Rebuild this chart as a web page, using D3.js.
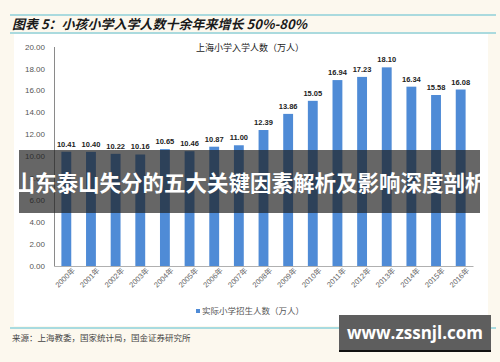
<!DOCTYPE html>
<html>
<head>
<meta charset="utf-8">
<script src="https://cdn.jsdelivr.net/npm/d3@7"></script>
<style>
  body { margin: 0; background: #fcf8ee; }
  svg { display: block; }
  text { font-family: Arial, "Liberation Sans", "Noto Sans CJK SC", sans-serif; }
</style>
</head>
<body>
<div id="chart"></div>
<script>
// data
var years = ["2000年","2001年","2002年","2003年","2004年","2005年","2006年","2007年","2008年",
             "2009年","2010年","2011年","2012年","2013年","2014年","2015年","2016年"];
var enrol = [10.41, 10.40, 10.22, 10.16, 10.65, 10.46, 10.87, 11.00, 12.39,
             13.86, 15.05, 16.94, 17.23, 18.10, 16.34, 15.58, 16.08];
var yTicks = [0, 2, 4, 6, 8, 10, 12, 14, 16, 18, 20];

var W = 500, H = 362;
var svg = d3.select("#chart").append("svg").attr("width", W).attr("height", H);

// backgrounds
svg.append("rect").attr("width", W).attr("height", H).attr("fill", "#fcf8ee");
svg.append("rect").attr("x", 14).attr("y", 34).attr("width", 474).attr("height", 292).attr("fill", "#ffffff");

// header lines + title
svg.append("line").attr("x1", 10).attr("x2", 496).attr("y1", 15).attr("y2", 15)
   .attr("stroke", "#8fd0d8").attr("stroke-width", 1.5);
svg.append("line").attr("x1", 10).attr("x2", 496).attr("y1", 33).attr("y2", 33)
   .attr("stroke", "#8fd0d8").attr("stroke-width", 1.5);
svg.append("text").attr("x", 12).attr("y", 29)
   .style("font-family", "'Noto Sans CJK SC', sans-serif")
   .style("font-size", "13px").style("font-weight", "bold").style("font-style", "italic")
   .attr("fill", "#1a1a1a")
   .text("图表 5：小孩小学入学人数十余年来增长 50%-80%");

// scales
var x = d3.scaleBand().domain(years).range([54, 473]).paddingInner(0.6).paddingOuter(0.3);
var y = d3.scaleLinear().domain([0, 20]).range([266, 46.5]);

// y axis
var yAxis = svg.append("g").attr("transform", "translate(54,0)")
  .call(d3.axisLeft(y).tickValues(yTicks).tickFormat(d3.format(".2f")).tickSize(0).tickPadding(9));
yAxis.select(".domain").attr("stroke", "#8a8a8a");
yAxis.selectAll("text").style("font-size", "8px").attr("fill", "#555");

// x axis
var xAxis = svg.append("g").attr("transform", "translate(0,266)")
  .call(d3.axisBottom(x).tickSize(0).tickSizeOuter(0).tickPadding(4));
xAxis.select(".domain").attr("stroke", "#b0b0b0");
xAxis.selectAll("text").style("font-size", "7.5px").attr("fill", "#666")
  .attr("text-anchor", "end").attr("dx", "3").attr("dy", "6")
  .attr("transform", "rotate(-45)");

// chart title
svg.append("text").attr("x", 250).attr("y", 51).attr("text-anchor", "middle")
   .style("font-family", "'Noto Sans CJK SC', sans-serif")
   .style("font-size", "9px").attr("fill", "#222").text("上海小学入学人数（万人）");

// bars
svg.selectAll("rect.bar").data(enrol).enter().append("rect").attr("class", "bar")
   .attr("x", function(d, i) { return x(years[i]); })
   .attr("width", x.bandwidth())
   .attr("y", function(d) { return y(d); })
   .attr("height", function(d) { return y(0) - y(d); })
   .attr("fill", "#4f8bd6");

// value labels
svg.selectAll("text.val").data(enrol).enter().append("text").attr("class", "val")
   .attr("x", function(d, i) { return x(years[i]) + x.bandwidth() / 2; })
   .attr("y", function(d) { return y(d) - 5; })
   .attr("text-anchor", "middle")
   .style("font-size", "7.5px").style("font-weight", "bold").attr("fill", "#222")
   .text(function(d) { return d.toFixed(2); });

// legend
svg.append("rect").attr("x", 196).attr("y", 309).attr("width", 4).attr("height", 4).attr("fill", "#4f8bd6");
svg.append("text").attr("x", 202).attr("y", 314)
   .style("font-family", "'Noto Sans CJK SC', sans-serif")
   .style("font-size", "8.5px").attr("fill", "#555").text("实际小学招生人数（万人）");

// source
svg.append("line").attr("x1", 10).attr("x2", 496).attr("y1", 328).attr("y2", 328)
   .attr("stroke", "#a8dbe0").attr("stroke-width", 2);
svg.append("text").attr("x", 12).attr("y", 341)
   .style("font-family", "'Noto Sans CJK SC', sans-serif")
   .style("font-size", "8.5px").attr("fill", "#444").text("来源：上海教委，国家统计局，国金证券研究所");

// banner overlay
svg.append("rect").attr("x", 19).attr("y", 150).attr("width", 461).attr("height", 63)
   .attr("fill", "rgba(30,30,30,0.68)");
svg.append("text").attr("x", 250).attr("y", 191).attr("text-anchor", "middle")
   .style("font-family", "'Noto Sans CJK SC', sans-serif")
   .style("font-size", "21.5px").style("font-weight", "bold").attr("fill", "#fff")
   .text("山东泰山失分的五大关键因素解析及影响深度剖析");

// watermark
svg.append("rect").attr("x", 339).attr("y", 315).attr("width", 152).attr("height", 37).attr("fill", "#5e5e5e");
svg.append("rect").attr("x", 339).attr("y", 350).attr("width", 152).attr("height", 2).attr("fill", "#111");
svg.append("text").attr("x", 415).attr("y", 339).attr("text-anchor", "middle")
   .style("font-family", "'Open Sans', sans-serif")
   .style("font-size", "17px").style("font-weight", "bold").attr("fill", "#fff")
   .text("www.zssnjl.com");
</script>
</body>
</html>
